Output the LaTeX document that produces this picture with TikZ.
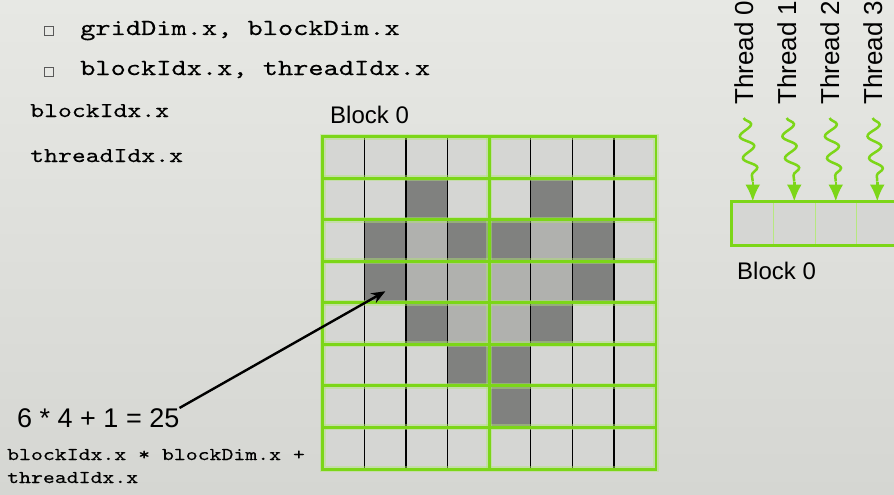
\documentclass[tikz,border=0pt]{standalone}
\usepackage{fontspec}
\setmainfont{Liberation Sans}
\newfontfamily\codefont{lmmono10-regular.otf}[FakeStretch=1.26,FakeBold=0.3]
\usetikzlibrary{arrows.meta,decorations.pathmorphing,positioning}

\definecolor{slidebg}{RGB}{231,232,228}
\definecolor{slidebgdark}{RGB}{213,214,210}
\definecolor{limegreen}{RGB}{124,214,24}
\definecolor{celllight}{RGB}{213,214,211}
\definecolor{cellmid}{RGB}{176,177,174}
\definecolor{celldark}{RGB}{128,129,127}

\tikzset{
  cell/.style={minimum width=41.6pt, minimum height=41.5pt, inner sep=0pt, fill=celllight},
  tcell/.style={minimum width=41.5pt, minimum height=43pt, inner sep=0pt, fill=celllight, draw=limegreen!55, line width=1pt},
  code/.style={inner sep=0pt, anchor=base west},
  sanstext/.style={inner sep=0pt, anchor=base west, font=\fontsize{24}{26}\selectfont},
  bulletbox/.style={draw=black!65, fill=slidebg, line width=1.3pt, minimum size=8.5pt, inner sep=0pt},
  glow/.style={draw=limegreen!60, line width=6pt, opacity=0.45},
  gridline/.style={draw=limegreen, line width=2.8pt},
  wavy/.style={draw=limegreen, line width=2.5pt, decorate,
    decoration={snake, amplitude=6.5pt, segment length=22pt}},
  wavytip/.style={draw=limegreen, line width=2.5pt, -{Latex[length=17pt,width=15pt]}}
}

\begin{document}
\begin{tikzpicture}[x=1pt,y=-1pt]
  \shade[top color=slidebg, bottom color=slidebgdark] (0,0) rectangle (894,495);
  \useasboundingbox (0,0) rectangle (894,495);
  \clip (0,0) rectangle (894,495);

  % title, cut off by the top edge
  \node[anchor=base west, inner sep=0pt, text=limegreen!60!white,
        font=\bfseries\fontsize{28}{30}\selectfont] (title) at (50,-2) {Grid of Blocks of Threads};

  % bullet list
  \node[bulletbox] (b1) at (49,31) {};
  \node[bulletbox] (b2) at (49,72) {};
  \node[code, font=\codefont\fontsize{23}{26}\selectfont] (item1) at (80,35) {gridDim.x, blockDim.x};
  \node[code, font=\codefont\fontsize{23}{26}\selectfont] (item2) at (80,75) {blockIdx.x, threadIdx.x};

  \node[code, font=\codefont\fontsize{21}{24}\selectfont] (bidx) at (30,117) {blockIdx.x};
  \node[code, font=\codefont\fontsize{21}{24}\selectfont] (tidx) at (30,162) {threadIdx.x};

  % the 8x8 block
  \node[sanstext] (blk) at (330,123) {Block 0};
  \foreach \r in {0,...,7}
    \foreach \c in {0,...,7}
      \node[cell] (c-\r-\c) at ({323+41.6*(\c+0.5)},{137+41.5*(\r+0.5)}) {};
  \foreach \r/\c in {2/2,2/5,3/2,3/3,3/4,3/5,4/3,4/4}
    \fill[cellmid] (c-\r-\c.north west) rectangle (c-\r-\c.south east);
  \foreach \r/\c in {1/2,1/5,2/1,2/3,2/4,2/6,3/1,3/6,4/2,4/5,5/3,5/4,6/4}
    \fill[celldark] (c-\r-\c.north west) rectangle (c-\r-\c.south east);

  \foreach \c in {1,2,3,5,6,7}
    \draw[line width=1.2pt] (c-0-\c.north west) -- (c-7-\c.south west);
  \foreach \s in {glow,gridline}{
    \foreach \r in {1,...,7}
      \draw[\s] (c-\r-0.north west) -- (c-\r-7.north east);
    \draw[\s] (c-0-4.north west) -- (c-7-4.south west);
    \draw[\s] (c-0-0.north west) rectangle (c-7-7.south east);
  }

  % index of the picked thread
  \node[sanstext, font=\fontsize{27}{29}\selectfont] (eq) at (17,427) {6 * 4 + 1 = 25};
  \node[code, font=\codefont\fontsize{18}{21}\selectfont] (formula1) at (7,460) {blockIdx.x * blockDim.x +};
  \node[code, font=\codefont\fontsize{18}{21}\selectfont] (formula2) at (7,483) {threadIdx.x};
  \draw[line width=2.4pt, -{Stealth[length=14pt,width=11pt]}] (eq.north east) -- ([yshift=-9pt]c-3-1.center);

  % one block of threads
  \foreach \i in {0,...,4}
    \node[tcell] (t\i) at ({752.75+41.5*\i},223.5) {};
  \draw[draw=limegreen, line width=2.2pt] (t0.north west) rectangle (t4.south east);
  \node[sanstext] (blk2) at (737,279) {Block 0};
  \foreach \i in {0,...,3}{
    \node[sanstext, font=\fontsize{26}{28}\selectfont, rotate=90] (th\i) at ({753+43*\i},105) {Thread \i};
    \coordinate (w\i) at ([yshift=20pt]t\i.north);
    \draw[wavy] ([yshift=-13pt]th\i.west) -- (w\i);
    \draw[wavytip] (w\i) -- (t\i.north);
  }
\end{tikzpicture}
\end{document}
